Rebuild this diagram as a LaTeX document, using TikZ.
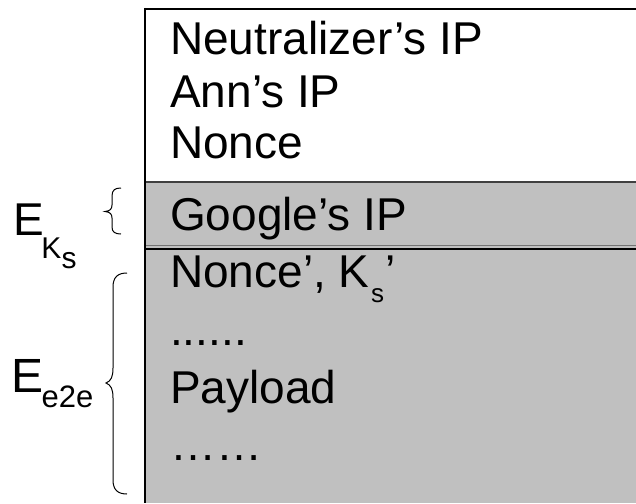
\documentclass[tikz,border=0pt]{standalone}
\usepackage{fontspec}
\setmainfont{Liberation Sans}
\begin{document}
\begin{tikzpicture}[x=1pt,y=-1pt,
  field/.style={anchor=base west,inner sep=0pt,font=\fontsize{46}{50}\selectfont},
  subtxt/.style={anchor=base west,inner sep=0pt,font=\fontsize{30}{33}\selectfont},
  brace/.style={draw=black,line width=1pt}]
\useasboundingbox (0,0) rectangle (636,503);

% header cells: white part, then the grey encrypted part
\fill[white] (145,9) rectangle (636,182);
\fill[fill={rgb,255:red,192;green,192;blue,192}] (145,182) rectangle (636,503);

% cell borders
\draw[line width=2.2pt] (144,9) -- (636,9);
\draw[line width=1.6pt,black!75] (145,182) -- (636,182);
\draw[line width=1pt,black!55] (145,245.5) -- (636,245.5);
\draw[line width=1.8pt] (145,249) -- (636,249);
\draw[line width=2pt] (145,8) -- (145,503);

% packet fields
\node[field] (nip)  at (170,55)  {Neutralizer’s IP};
\node[field] (aip)  at (170,107) {Ann’s IP};
\node[field] (non)  at (170,158) {Nonce};
\node[field] (gip)  at (170,230) {Google’s IP};
\node[field] (nonp) at (170,287) {Nonce’, K};
\node[subtxt,font=\fontsize{26}{28}\selectfont] (nonps) at (nonp.base east) [xshift=1pt,yshift=-15pt] {s};
\node[field] (nonpq) at (nonps.base east) [yshift=15pt,xshift=1pt] {’};
\node[field] (dot1) at (170,345) {......};
\node[field] (pay)  at (170,403) {Payload};
\node[field] (dot2) at (170,460) {……};

% label of the K_s encrypted field
\node[field] (eks) at (13,235) {E};
\node[subtxt] (eksk) at (eks.base east) [xshift=-3pt,yshift=-23pt] {K};
\node[subtxt] (ekss) at (eksk.base east) [xshift=0pt,yshift=-10pt] {s};
\draw[brace] (121,188) .. controls (115,188) and (112,190) .. (112,196)
  -- (112,205) .. controls (112,209) and (110,211) .. (105,211.5)
  .. controls (110,212) and (112,214) .. (112,218)
  -- (112,227) .. controls (112,232) and (115,234) .. (121,234);

% label of the end-to-end encrypted part
\node[field,font=\fontsize{48}{52}\selectfont] (ee) at (11,392) {E};
\node[subtxt,font=\fontsize{31}{33}\selectfont] (ees) at (ee.base east) [xshift=-2pt,yshift=-15pt] {e2e};
\draw[brace] (127,273) .. controls (118,273) and (113,277) .. (113,287)
  -- (113,368) .. controls (113,377) and (111,381) .. (106,383)
  .. controls (111,385) and (113,389) .. (113,398)
  -- (113,480) .. controls (113,490) and (118,494) .. (127,494);
\end{tikzpicture}
\end{document}
